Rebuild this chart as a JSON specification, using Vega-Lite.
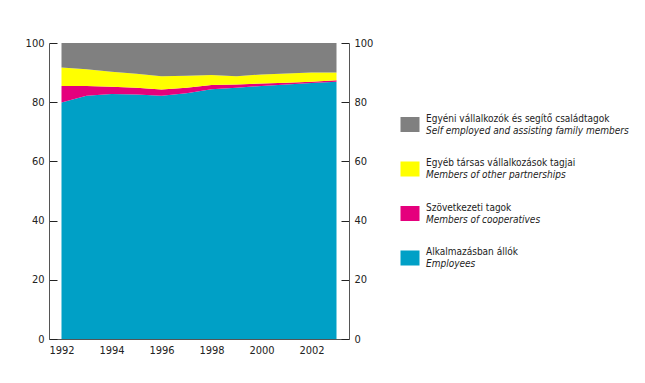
{
  "$schema": "https://vega.github.io/schema/vega-lite/v6.json",
  "padding": {"left": 25, "top": 37, "right": 5, "bottom": 5},
  "background": "white",
  "config": {
    "view": {"stroke": null},
    "font": "DejaVu Sans Condensed, Roboto, sans-serif",
    "axis": {"labelFontSize": 11, "labelColor": "#222222", "domainColor": "#555555", "tickColor": "#222222", "grid": false, "title": null}
  },
  "datasets": {
    "shares": [
      {"year": 1992, "cat": "Employees", "value": 79.9},
      {"year": 1992, "cat": "Members of cooperatives", "value": 5.6},
      {"year": 1992, "cat": "Members of other partnerships", "value": 6.2},
      {"year": 1992, "cat": "Self employed and assisting family members", "value": 8.3},
      {"year": 1993, "cat": "Employees", "value": 82.2},
      {"year": 1993, "cat": "Members of cooperatives", "value": 3.3},
      {"year": 1993, "cat": "Members of other partnerships", "value": 5.6},
      {"year": 1993, "cat": "Self employed and assisting family members", "value": 8.9},
      {"year": 1994, "cat": "Employees", "value": 82.8},
      {"year": 1994, "cat": "Members of cooperatives", "value": 2.4},
      {"year": 1994, "cat": "Members of other partnerships", "value": 5.1},
      {"year": 1994, "cat": "Self employed and assisting family members", "value": 9.7},
      {"year": 1995, "cat": "Employees", "value": 82.6},
      {"year": 1995, "cat": "Members of cooperatives", "value": 2.3},
      {"year": 1995, "cat": "Members of other partnerships", "value": 4.7},
      {"year": 1995, "cat": "Self employed and assisting family members", "value": 10.4},
      {"year": 1996, "cat": "Employees", "value": 82.2},
      {"year": 1996, "cat": "Members of cooperatives", "value": 2.1},
      {"year": 1996, "cat": "Members of other partnerships", "value": 4.5},
      {"year": 1996, "cat": "Self employed and assisting family members", "value": 11.2},
      {"year": 1997, "cat": "Employees", "value": 83.0},
      {"year": 1997, "cat": "Members of cooperatives", "value": 1.9},
      {"year": 1997, "cat": "Members of other partnerships", "value": 4.0},
      {"year": 1997, "cat": "Self employed and assisting family members", "value": 11.1},
      {"year": 1998, "cat": "Employees", "value": 84.4},
      {"year": 1998, "cat": "Members of cooperatives", "value": 1.4},
      {"year": 1998, "cat": "Members of other partnerships", "value": 3.4},
      {"year": 1998, "cat": "Self employed and assisting family members", "value": 10.8},
      {"year": 1999, "cat": "Employees", "value": 84.9},
      {"year": 1999, "cat": "Members of cooperatives", "value": 1.1},
      {"year": 1999, "cat": "Members of other partnerships", "value": 2.8},
      {"year": 1999, "cat": "Self employed and assisting family members", "value": 11.2},
      {"year": 2000, "cat": "Employees", "value": 85.5},
      {"year": 2000, "cat": "Members of cooperatives", "value": 0.8},
      {"year": 2000, "cat": "Members of other partnerships", "value": 3.1},
      {"year": 2000, "cat": "Self employed and assisting family members", "value": 10.6},
      {"year": 2001, "cat": "Employees", "value": 86.0},
      {"year": 2001, "cat": "Members of cooperatives", "value": 0.6},
      {"year": 2001, "cat": "Members of other partnerships", "value": 3.1},
      {"year": 2001, "cat": "Self employed and assisting family members", "value": 10.3},
      {"year": 2002, "cat": "Employees", "value": 86.5},
      {"year": 2002, "cat": "Members of cooperatives", "value": 0.4},
      {"year": 2002, "cat": "Members of other partnerships", "value": 3.1},
      {"year": 2002, "cat": "Self employed and assisting family members", "value": 10.0},
      {"year": 2003, "cat": "Employees", "value": 86.9},
      {"year": 2003, "cat": "Members of cooperatives", "value": 0.5},
      {"year": 2003, "cat": "Members of other partnerships", "value": 2.6},
      {"year": 2003, "cat": "Self employed and assisting family members", "value": 10.0}
    ],
    "legend": [
      {"cat": "Self employed and assisting family members", "hu": "Egyéni vállalkozók és segítő családtagok"},
      {"cat": "Members of other partnerships", "hu": "Egyéb társas vállalkozások tagjai"},
      {"cat": "Members of cooperatives", "hu": "Szövetkezeti tagok"},
      {"cat": "Employees", "hu": "Alkalmazásban állók"}
    ]
  },
  "spacing": 27,
  "hconcat": [
    {
      "width": 300,
      "height": 296,
      "data": {"name": "shares"},
      "encoding": {
        "x": {"field": "year", "type": "quantitative", "scale": {"domain": [1991.5, 2003.5], "nice": false, "zero": false},
              "axis": {"values": [1992, 1994, 1996, 1998, 2000, 2002], "format": "d", "ticks": false, "labelPadding": 5}},
        "color": {"field": "cat", "type": "nominal",
                  "scale": {"domain": ["Self employed and assisting family members", "Members of other partnerships", "Members of cooperatives", "Employees"],
                            "range": ["#808080", "#ffff00", "#e5007d", "#00a0c6"]},
                  "legend": null},
        "order": {"field": "cat", "type": "ordinal", "sort": "ascending"}
      },
      "layer": [
        {
          "mark": {"type": "area", "opacity": 1},
          "encoding": {
            "y": {"field": "value", "type": "quantitative", "stack": "zero", "scale": {"domain": [0, 100], "nice": false},
                  "axis": {"orient": "left", "values": [0, 20, 40, 60, 80, 100], "tickSize": -8, "labelPadding": 13}}
          }
        },
        {
          "mark": {"type": "area", "opacity": 0},
          "encoding": {
            "y": {"field": "value", "type": "quantitative", "stack": "zero", "scale": {"domain": [0, 100], "nice": false},
                  "axis": {"orient": "right", "values": [0, 20, 40, 60, 80, 100], "tickSize": -8, "labelPadding": 13}}
          }
        }
      ],
      "resolve": {"scale": {"y": "independent"}}
    },
    {
      "width": 20,
      "height": 296,
      "data": {"name": "legend"},
      "encoding": {
        "y": {"field": "cat", "type": "nominal", "sort": null,
              "scale": {"type": "point", "padding": 0, "range": [81.5, 215]}, "axis": null},
        "color": {"field": "cat", "type": "nominal", "legend": null}
      },
      "layer": [
        {"mark": {"type": "point", "filled": true, "opacity": 1, "size": 361, "shape": "M-1,-0.79L1,-0.79L1,0.79L-1,0.79Z"}},
        {"mark": {"type": "text", "align": "left", "baseline": "middle", "dx": 16, "dy": -6, "fontSize": 10, "color": "#222222"},
         "encoding": {"text": {"field": "hu"}, "color": {"value": "#222222"}}},
        {"mark": {"type": "text", "align": "left", "baseline": "middle", "dx": 16, "dy": 6, "fontSize": 10, "fontStyle": "italic", "color": "#222222"},
         "encoding": {"text": {"field": "cat"}, "color": {"value": "#222222"}}}
      ]
    }
  ]
}
